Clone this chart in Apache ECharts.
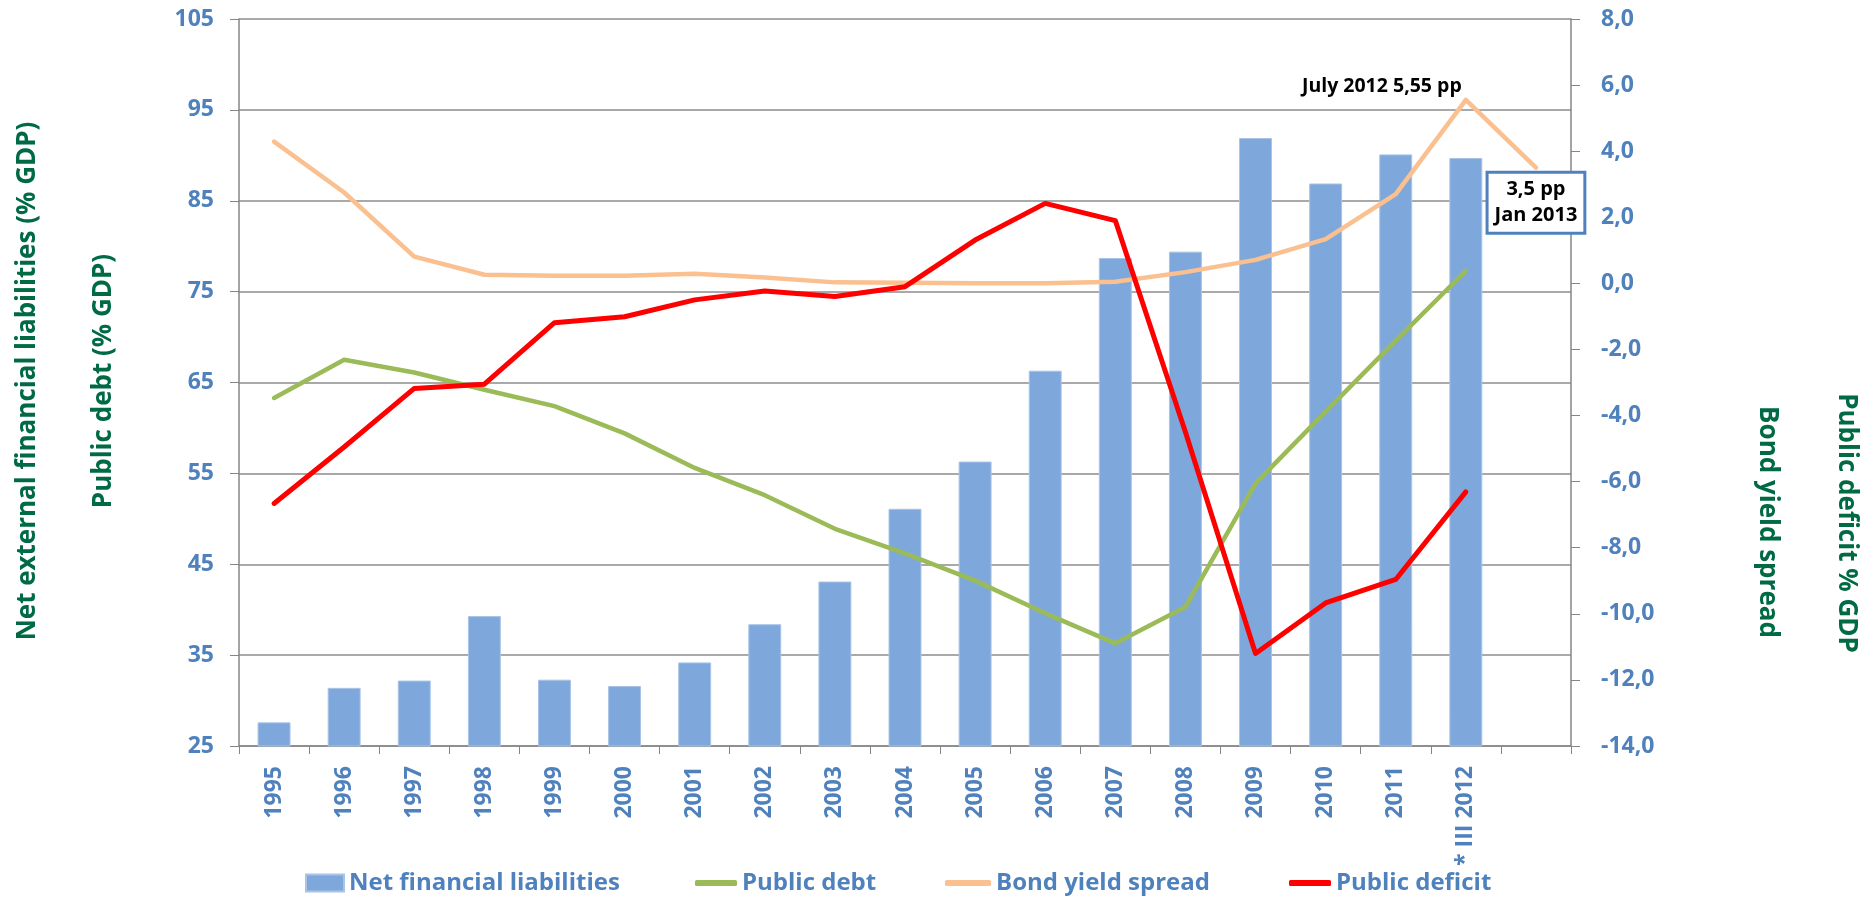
<!DOCTYPE html>
<html lang="en">
<head>
    <meta charset="UTF-8">
    <title>Net liabilities, debt, deficit and bond spread</title>
    <script type="text/javascript" src="https://cdn.jsdelivr.net/npm/echarts@6/dist/echarts.min.js"></script>
    <style>
        body { margin: 0; background: #fff; }
        #main { width: 1866px; height: 898px; }
    </style>
</head>
<body>
<div id="main"></div>
<script type="text/javascript">
    // categories (last one is Jan 2013, only the spread has a value there)
    var years = ['1995', '1996', '1997', '1998', '1999', '2000', '2001', '2002', '2003', '2004',
        '2005', '2006', '2007', '2008', '2009', '2010', '2011', '* III 2012', ''];

    // % GDP, left axis
    var netLiabilities = [27.6, 31.4, 32.2, 39.3, 32.3, 31.6, 34.2, 38.4, 43.1, 51.1,
        56.3, 66.3, 78.7, 79.4, 91.9, 86.9, 90.1, 89.7, null];
    var publicDebt = [63.3, 67.5, 66.1, 64.2, 62.4, 59.4, 55.6, 52.6, 48.9, 46.2,
        43.2, 39.6, 36.3, 40.3, 53.9, 61.8, 69.6, 77.3, null];

    // right axis
    var bondSpread = [4.29, 2.75, 0.81, 0.26, 0.23, 0.23, 0.29, 0.18, 0.03, 0.02,
        0.0, 0.0, 0.05, 0.34, 0.71, 1.34, 2.70, 5.55, 3.5];
    var publicDeficit = [-6.66, -4.95, -3.18, -3.05, -1.19, -1.01, -0.50, -0.23, -0.40, -0.10,
        1.31, 2.42, 1.90, -4.50, -11.20, -9.67, -8.96, -6.31, null];

    var leftTicks = {min: 25, max: 105, step: 10};
    var rightTicks = {min: -14, max: 8, step: 2};

    var blue = '#4f81bd';
    var green = '#006a45';
    var txtFont = 'Open Sans';
    var tickFont = {color: blue, fontFamily: txtFont, fontWeight: 'bold', fontSize: 23};

    // spread labels on July 2012 and Jan 2013
    var spreadData = bondSpread.map(function (v, i) {
        if (i === 17) {
            return {
                value: v,
                label: {
                    show: true, position: 'top', distance: 4, offset: [-84, 0],
                    formatter: 'July 2012 5,55 pp',
                    color: '#000', fontFamily: txtFont, fontWeight: 'bold', fontSize: 19.5
                }
            };
        }
        if (i === 18) {
            return {
                value: v,
                label: {
                    show: true, position: 'bottom', distance: 6,
                    formatter: '3,5 pp\nJan 2013', align: 'center',
                    color: '#000', fontFamily: txtFont, fontWeight: 'bold', fontSize: 20,
                    lineHeight: 26, backgroundColor: '#fff',
                    borderColor: blue, borderWidth: 3, padding: [3, 6, 3, 6]
                }
            };
        }
        return v;
    });

    const myChart = echarts.init(document.getElementById('main'));

    function legendItem(name, left, icon, w, h) {
        return {
            data: [{name: name, icon: icon}],
            left: left, top: 871, padding: 0,
            itemWidth: w, itemHeight: h,
            textStyle: {color: blue, fontFamily: txtFont, fontWeight: 'bold', fontSize: 24}
        };
    }

    function titleText(text, x, y, rot) {
        return {
            type: 'text', x: x, y: y, rotation: rot,
            style: {
                text: text, fill: green, font: 'bold 26px "' + txtFont + '"',
                textAlign: 'center', textVerticalAlign: 'middle'
            }
        };
    }

    myChart.setOption({
        animation: false,
        grid: {left: 239, right: 295, top: 19, bottom: 152},
        legend: [
            legendItem('Net financial liabilities', 305, 'rect', 38, 17),
            legendItem('Public debt', 695, 'roundRect', 42, 6),
            legendItem('Bond yield spread', 945, 'roundRect', 46, 6),
            legendItem('Public deficit', 1289, 'roundRect', 42, 6)
        ],
        graphic: [
            titleText('Net external financial liabilities (% GDP)', 28, 381, Math.PI / 2),
            titleText('Public debt (% GDP)', 104, 381, Math.PI / 2),
            titleText('Bond yield spread', 1767, 522, -Math.PI / 2),
            titleText('Public deficit % GDP', 1846, 523, -Math.PI / 2)
        ],
        xAxis: {
            type: 'category',
            data: years,
            axisLine: {onZero: false, lineStyle: {color: '#868686', width: 1.5}},
            axisTick: {show: true, interval: 0, length: 8, lineStyle: {color: '#868686'}},
            axisLabel: Object.assign({interval: 0, rotate: 90, margin: 20}, tickFont),
            splitLine: {show: false}
        },
        yAxis: [{
            type: 'value',
            min: leftTicks.min, max: leftTicks.max, interval: leftTicks.step,
            axisLine: {show: true, lineStyle: {color: '#868686', width: 1.5}},
            axisTick: {show: true, length: 9, lineStyle: {color: '#868686'}},
            axisLabel: Object.assign({margin: 25}, tickFont),
            splitLine: {show: true, lineStyle: {color: '#8c8c8c', width: 1.5}}
        }, {
            type: 'value',
            min: rightTicks.min, max: rightTicks.max, interval: rightTicks.step,
            axisLine: {show: true, lineStyle: {color: '#868686', width: 1.5}},
            axisTick: {show: true, length: 9, lineStyle: {color: '#868686'}},
            axisLabel: Object.assign({
                margin: 30,
                formatter: function (v) { return v.toFixed(1).replace('.', ','); }
            }, tickFont),
            splitLine: {show: false}
        }],
        series: [{
            name: 'Net financial liabilities',
            type: 'bar',
            data: netLiabilities,
            barWidth: '47%',
            itemStyle: {color: '#7ea8db', borderColor: '#a9c4e6', borderWidth: 1}
        }, {
            name: 'Public debt',
            type: 'line',
            data: publicDebt,
            showSymbol: false,
            lineStyle: {color: '#9bbb59', width: 4.5, cap: 'round', join: 'round'},
            itemStyle: {color: '#9bbb59'}
        }, {
            name: 'Bond yield spread',
            type: 'line',
            yAxisIndex: 1,
            data: spreadData,
            symbol: 'circle',
            symbolSize: 0,
            showSymbol: true,
            showAllSymbol: true,
            lineStyle: {color: '#fac090', width: 4.5, cap: 'round', join: 'round'},
            itemStyle: {color: '#fac090'}
        }, {
            name: 'Public deficit',
            type: 'line',
            yAxisIndex: 1,
            data: publicDeficit,
            showSymbol: false,
            lineStyle: {color: '#ff0000', width: 5, cap: 'round', join: 'round'},
            itemStyle: {color: '#ff0000'}
        }]
    });
</script>
</body>
</html>
